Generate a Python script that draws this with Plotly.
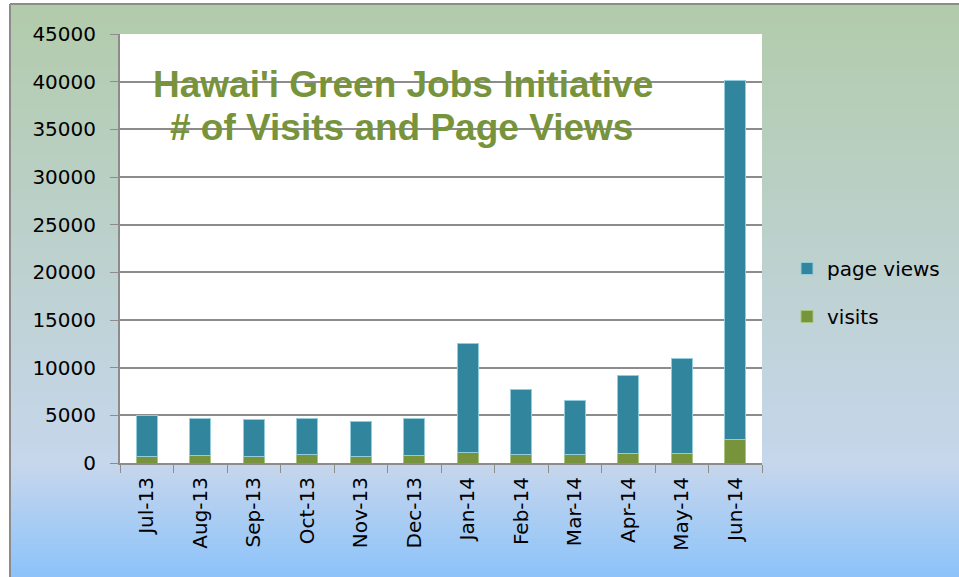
import plotly.graph_objects as go

months = ["Jul-13", "Aug-13", "Sep-13", "Oct-13", "Nov-13", "Dec-13",
          "Jan-14", "Feb-14", "Mar-14", "Apr-14", "May-14", "Jun-14"]
visits = [700, 740, 700, 850, 670, 770, 1060, 850, 910, 1020, 950, 2460]
page_views = [4300, 3910, 3910, 3830, 3660, 3880, 11440, 6900, 5600, 8180, 9970, 37640]
y_ticks = [0, 5000, 10000, 15000, 20000, 25000, 30000, 35000, 40000, 45000]

W, H = 959, 577
L, R, T, B = 120, 762, 34, 463

def px_x(x):
    return (x - L) / (R - L)

def px_y(y):
    return (B - y) / (B - T)

def lerp(c1, c2, t):
    return tuple(round(a + (b - a) * t) for a, b in zip(c1, c2))

stops = [(4, (178, 203, 170)), (465, (198, 214, 236)), (577, (140, 195, 250))]

def grad_color(y):
    for (y0, c0), (y1, c1) in zip(stops[:-1], stops[1:]):
        if y <= y1:
            t = max(0.0, (y - y0) / (y1 - y0))
            return lerp(c0, c1, t)
    return stops[-1][1]

shapes = []
step = 3
y = 4
while y < H:
    c = grad_color(y + step / 2)
    shapes.append(dict(type="rect", xref="paper", yref="paper", layer="below",
                       x0=px_x(10), x1=px_x(W + 2), y0=px_y(y + step + 0.5), y1=px_y(y),
                       line=dict(width=0), fillcolor="rgb(%d,%d,%d)" % c))
    y += step
# plot area white
shapes.append(dict(type="rect", xref="paper", yref="paper", layer="below",
                   x0=0, x1=1, y0=0, y1=1, line=dict(width=0), fillcolor="white"))
# outer frame lines
shapes.append(dict(type="line", xref="paper", yref="paper", layer="below",
                   x0=px_x(10), x1=px_x(10), y0=px_y(H + 2), y1=px_y(4),
                   line=dict(color="#8c8c8c", width=2)))
shapes.append(dict(type="line", xref="paper", yref="paper", layer="below",
                   x0=px_x(10), x1=px_x(W + 2), y0=px_y(4), y1=px_y(4),
                   line=dict(color="#8c8c8c", width=2)))

fig = go.Figure()
fig.add_trace(go.Bar(x=months, y=visits, name="visits", legendgroup="v", legendrank=2,
                     marker=dict(color="#77933c", line=dict(color="#a9c47f", width=1))))
fig.add_trace(go.Bar(x=months, y=page_views, name="page views", legendgroup="p", legendrank=1,
                     marker=dict(color="#31859c", line=dict(color="#93cddd", width=1))))

green = "#77933c"
fig.add_annotation(text="<b>Hawai'i Green Jobs Initiative</b>", xref="paper", yref="paper",
                   x=px_x(403), y=px_y(62), showarrow=False,
                   font=dict(family="Liberation Sans, Arial", size=37, color=green))
fig.add_annotation(text="<b># of Visits and Page Views</b>", xref="paper", yref="paper",
                   x=px_x(401), y=px_y(105), showarrow=False,
                   font=dict(family="Liberation Sans, Arial", size=37, color=green))

fig.update_layout(
    width=W, height=H, autosize=False,
    margin=dict(l=L, r=W - R, t=T, b=H - B, autoexpand=False),
    paper_bgcolor="white", plot_bgcolor="white",
    barmode="stack", bargap=0.6,
    shapes=shapes,
    font=dict(family="DejaVu Sans, sans-serif", size=20, color="black"),
    legend=dict(x=px_x(787), y=px_y(249), xanchor="left", yanchor="top",
                traceorder="grouped", tracegroupgap=19, bgcolor="rgba(0,0,0,0)",
                font=dict(size=20), itemwidth=30),
    xaxis=dict(type="category", tickangle=-90, tickson="boundaries", ticks="outside",
               ticklen=8, tickcolor="#8c8c8c", showline=True, linecolor="#8c8c8c",
               linewidth=2, showgrid=False, tickfont=dict(size=20), fixedrange=True,
               automargin=False, ticklabelstandoff=4),
    yaxis=dict(range=[0, 45000], tickvals=y_ticks, tickformat="d", ticks="outside", ticklen=8,
               tickcolor="#8c8c8c", showline=True, linecolor="#8c8c8c", linewidth=2,
               showgrid=True, gridcolor="#8c8c8c", gridwidth=1.5, zeroline=False,
               tickfont=dict(size=20), ticklabelstandoff=10, automargin=False),
    showlegend=True,
)

fig.write_html("out.html", config={"displayModeBar": False, "responsive": False},
               post_script="document.body.style.margin='0';document.body.style.overflow='hidden';")
